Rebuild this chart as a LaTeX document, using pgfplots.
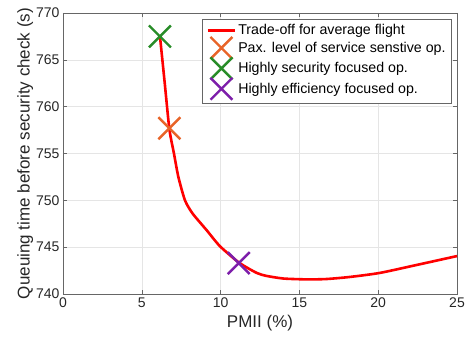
\documentclass[border=0pt]{standalone}
\usepackage{fontspec}
\setmainfont{Liberation Sans}
\usepackage{pgfplots}
\pgfplotsset{compat=1.18}
\definecolor{mred}{RGB}{255,0,0}
\definecolor{morange}{RGB}{232,100,40}
\definecolor{mgreen}{RGB}{40,140,40}
\definecolor{mpurple}{RGB}{125,30,170}
\definecolor{axgray}{RGB}{38,38,38}
\pgfplotsset{
  lineleg/.style={legend image code/.code={\draw[##1] (0pt,0pt) -- (27pt,0pt);}},
  markleg/.style={legend image code/.code={\draw[##1] plot coordinates {(13.5pt,0pt)};}},
}
\begin{document}
\begin{tikzpicture}
\begin{axis}[
  name=a,
  scale only axis,
  width=394pt, height=281pt,
  xmin=0, xmax=25, ymin=740, ymax=770,
  xtick={0,5,10,15,20,25},
  ytick={740,745,750,755,760,765,770},
  grid=major,
  major grid style={draw=black!10, line width=0.5pt},
  axis line style={draw=black!60, line width=0.8pt},
  tick style={draw=black!60, line width=0.6pt},
  tick align=inside,
  major tick length=4pt,
  tick label style={font=\fontsize{14}{16}\selectfont, text=axgray},
  /pgf/number format/assume math mode=true,
  xlabel={PMII (\%)},
  ylabel={Queuing time before security check (s)},
  label style={font=\fontsize{17}{19}\selectfont, text=axgray},
  xlabel style={yshift=-1pt},
  ylabel style={yshift=-4pt},
  legend cell align=left,
  legend style={
    at={(rel axis cs:0.987,0.979)}, anchor=north east,
    font=\fontsize{14.2}{16}\selectfont,
    draw=black!60, line width=0.6pt,
    inner xsep=4pt, inner ysep=3.5pt,
    row sep=-1.5pt,
    text=black,
  },
  clip=false,
]
\addplot[mred, line width=2.6pt, smooth, tension=0.4, lineleg]
coordinates {
(6.15,767.55)
(6.45,762.6)
(6.75,757.6)
(7.04,755.0)
(7.32,752.5)
(7.74,750.0)
(8.22,748.6)
(9.12,746.8)
(9.96,745.1)
(11.17,743.35)
(12.29,742.25)
(12.92,741.93)
(14.0,741.65)
(15.5,741.56)
(16.73,741.6)
(18.2,741.82)
(20.1,742.25)
(22.44,743.1)
(25.0,744.05)
};
\addlegendentry{Trade-off for average flight}
\addplot[only marks, mark=x, mark size=15.5pt, morange, line width=2.4pt, markleg]
coordinates {(6.75,757.7)};
\addlegendentry{Pax. level of service senstive op.}
\addplot[only marks, mark=x, mark size=15.5pt, mgreen, line width=2.4pt, markleg]
coordinates {(6.15,767.5)};
\addlegendentry{Highly security focused op.}
\addplot[only marks, mark=x, mark size=15.5pt, mpurple, line width=2.4pt, markleg]
coordinates {(11.15,743.3)};
\addlegendentry{Highly efficiency focused op.}
\end{axis}
\pgfresetboundingbox
\path ([shift={(-63pt,-49pt)}]a.south west) rectangle ([shift={(11pt,13pt)}]a.north east);
\end{tikzpicture}
\end{document}
